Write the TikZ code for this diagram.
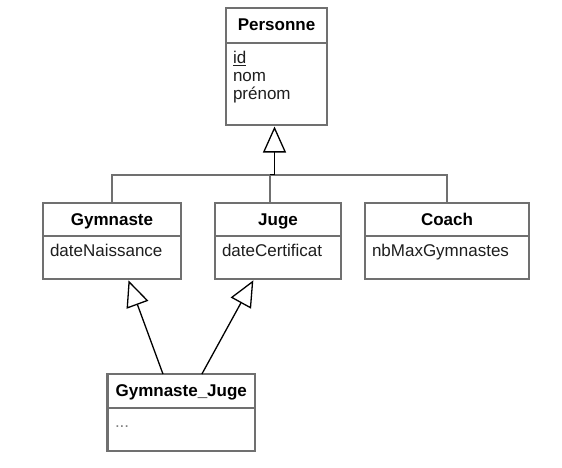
\documentclass[tikz,border=0pt]{standalone}
\usepackage{fontspec}
\setmainfont{Liberation Sans}
\usetikzlibrary{arrows.meta,calc}
\definecolor{boxgray}{RGB}{112,112,112}
\definecolor{txt}{RGB}{30,30,30}
\begin{document}
\begin{tikzpicture}[x=1pt,y=-1pt,
  every node/.style={font=\fontsize{17}{18.5}\selectfont, inner sep=0pt, outer sep=0pt, text=txt},
  hdr/.style={draw=boxgray, line width=2.8pt, anchor=north west, fill=white,
    font=\fontsize{17}{18.5}\selectfont\bfseries, text=black, text height=12.5pt, text depth=1.5pt},
  bdy/.style={draw=boxgray, line width=2.8pt, anchor=north west, fill=white},
  attr/.style={anchor=base west},
  tree/.style={draw=boxgray, line width=2pt},
  gen/.style={draw=black, line width=1.3pt, shorten >=1.5pt,
    -{Triangle[length=26pt,width=23pt,fill=white]}},
]
\useasboundingbox (0,0) rectangle (562,468);

% Personne
\node[bdy, minimum width=101pt, minimum height=82pt] (Pb) at (226,43) {};
\node[hdr, minimum width=101pt, minimum height=35pt] (Ph) at (226,8) {Personne};
\node[attr] (Pa1) at (233,64) {\underline{id}};
\node[attr] (Pa2) at (233,82) {nom};
\node[attr] (Pa3) at (233,100) {prénom};

% Gymnaste
\node[bdy, minimum width=138pt, minimum height=43pt] (Gb) at (43,236) {};
\node[hdr, minimum width=138pt, minimum height=33pt] (Gh) at (43,203) {Gymnaste};
\node[attr] (Ga) at (50,256) {dateNaissance};

% Juge
\node[bdy, minimum width=126pt, minimum height=43pt] (Jb) at (215,236) {};
\node[hdr, minimum width=126pt, minimum height=33pt] (Jh) at (215,203) {Juge};
\node[attr] (Ja) at (222,256) {dateCertificat};

% Coach
\node[bdy, minimum width=164pt, minimum height=43pt] (Cb) at (365,236) {};
\node[hdr, minimum width=164pt, minimum height=33pt] (Ch) at (365,203) {Coach};
\node[attr] (Ca) at (372,256) {nbMaxGymnastes};

% Gymnaste_Juge
\node[bdy, minimum width=147.5pt, minimum height=43pt] (GJb) at (107.5,408) {};
\node[hdr, minimum width=147.5pt, minimum height=34pt] (GJh) at (107.5,374) {Gymnaste\_Juge};
\node[attr, text=gray] (GJa) at (115,427) {...};

% inheritance tree to Personne
\coordinate (hub) at (274.5,174.5);
\coordinate (jt) at (270,174.5);
\draw[tree] (Gh.north) |- (hub -| Ch.north) -- (Ch.north);
\draw[tree] (jt) -- (jt |- Jh.north);
\draw[gen] (jt) -- (hub) -- (hub |- Pb.south);

% Gymnaste_Juge generalisations
\draw[gen] ($(GJh.north west)!0.376!(GJh.north east)$) -- ($(Gb.south west)!0.616!(Gb.south east)$);
\draw[gen] ($(GJh.north west)!0.64!(GJh.north east)$) -- ($(Jb.south west)!0.31!(Jb.south east)$);
\end{tikzpicture}
\end{document}
